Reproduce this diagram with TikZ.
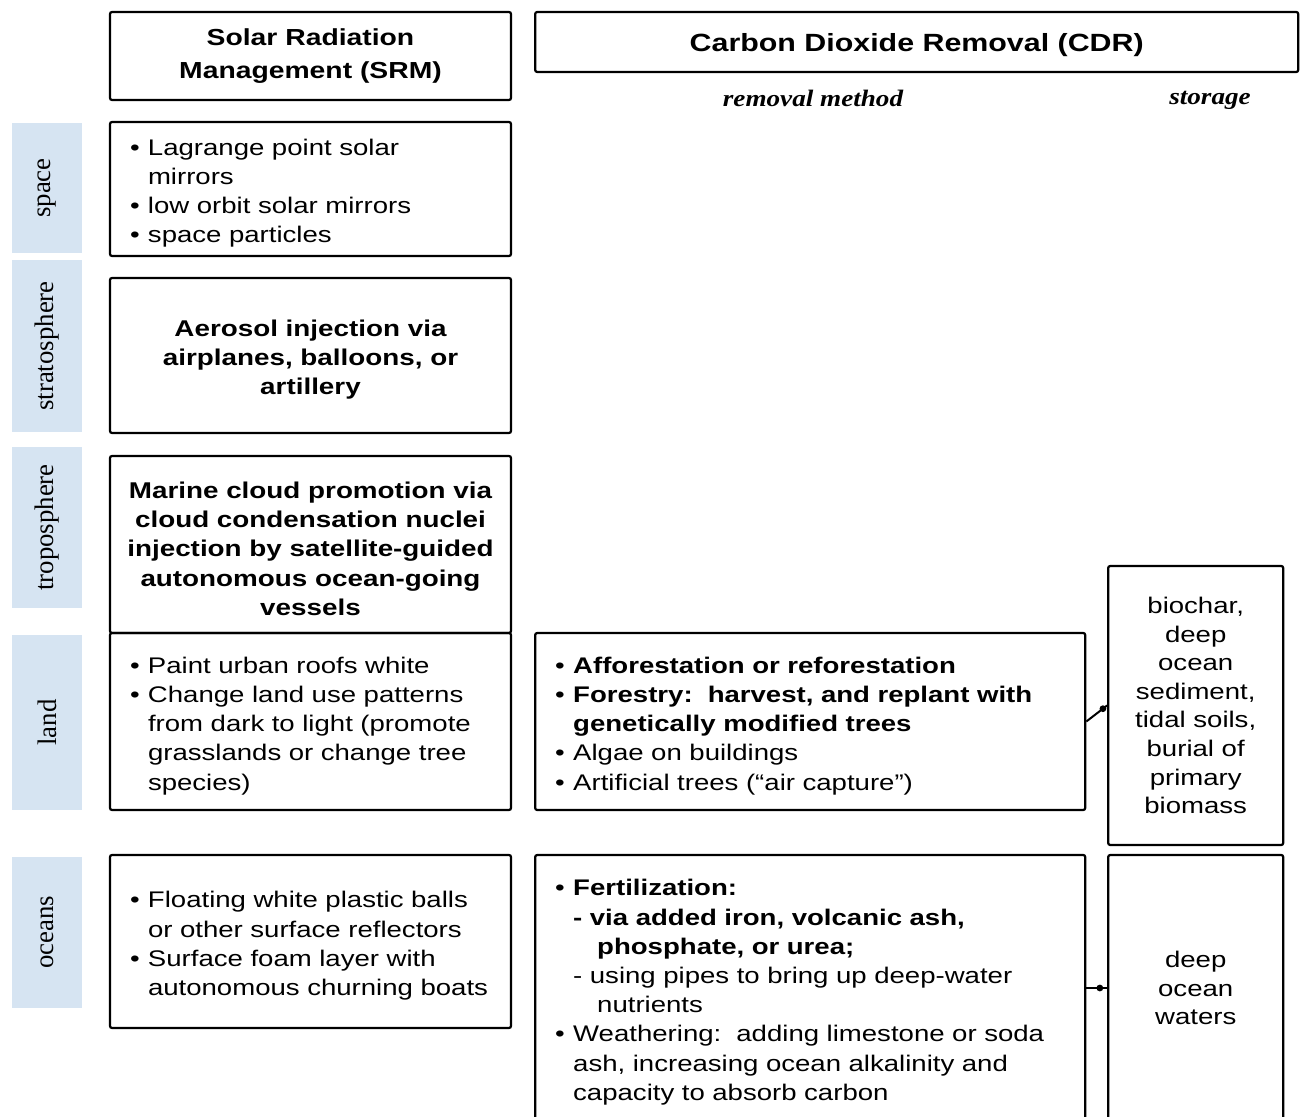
\documentclass[tikz,border=0pt]{standalone}
\usepackage{fontspec}
\setmainfont{Liberation Sans}[FakeStretch=1.22]
\newfontfamily\sidefont{Liberation Serif}
\newfontfamily\colfont{Liberation Serif}[FakeStretch=1.15]
\usetikzlibrary{positioning}
\definecolor{sideblue}{RGB}{214,228,242}
\newcommand{\bul}{\makebox[9pt][l]{\textbullet}}
\newcommand{\ind}{\hspace*{9pt}}
\newcommand{\subind}{\hspace*{21pt}}
\newcommand{\topstrut}{\rule{0pt}{12.5pt}}

\begin{document}
\begin{tikzpicture}
[x=0.5pt, y=-0.5pt, node distance=9.9pt,
box/.style = {draw, line width=1.1pt, rounded corners=1pt, align=center,
  inner sep=0pt, font=\fontsize{11.3}{14.6}\selectfont},
hdr/.style = {box, font=\bfseries\fontsize{11.6}{16.5}\selectfont},
boldbox/.style = {box, minimum width=200.5pt, font=\bfseries\fontsize{11.4}{14.6}\selectfont},
srmlist/.style = {box, align=left, inner xsep=10pt, text width=180.5pt},
cdrlist/.style = {box, align=left, inner xsep=10pt, text width=255pt},
store/.style = {box, minimum width=87.5pt, font=\fontsize{11.3}{14.3}\selectfont},
side/.style = {fill=sideblue, rotate=90, inner sep=0pt, minimum height=35pt,
  font=\sidefont\fontsize{13.4}{15}\selectfont},
collab/.style = {font=\colfont\bfseries\itshape\fontsize{11.8}{13}\selectfont},
dot/.style = {circle, fill, inner sep=1.2pt}]
\useasboundingbox (0,0) rectangle (1301,1117);

% SRM column
\node [hdr, minimum width=200.5pt, minimum height=44pt] (srm) at (310.5,56)
  {Solar Radiation\\Management (SRM)};
\node [srmlist, minimum height=67pt, below=of srm] (spc)
  {\topstrut\bul Lagrange point solar\\\ind mirrors\\\bul low orbit solar mirrors\\\bul space particles};
\node [boldbox, minimum height=77.5pt, below=of spc] (strat)
  {\topstrut Aerosol injection via\\airplanes, balloons, or\\artillery};
\node [boldbox, minimum height=88.5pt, below=10.4pt of strat] (tropo)
  {\topstrut Marine cloud promotion via\\cloud condensation nuclei\\injection by satellite-guided\\autonomous ocean-going\\vessels};
\node [srmlist, minimum height=88.5pt, below=-1.1pt of tropo] (land)
  {\topstrut\bul Paint urban roofs white\\\bul Change land use patterns\\\ind from dark to light (promote\\\ind grasslands or change tree\\\ind species)};
\node [srmlist, minimum height=86.5pt, below=21.4pt of land] (ocn)
  {\topstrut\bul Floating white plastic balls\\\ind or other surface reflectors\\\bul Surface foam layer with\\\ind autonomous churning boats};

% layer labels
\node [side, minimum width=65pt] (lspc) at (47,188) {space};
\node [side, minimum width=86pt] (lstrat) at (47,346) {stratosphere};
\node [side, minimum width=80.5pt] (ltropo) at (47,527.5) {troposphere};
\node [side, minimum width=87.5pt] (lland) at (47,722.5) {land};
\node [side, minimum width=75.5pt] (locn) at (47,932.5) {oceans};

% CDR column
\node [hdr, minimum width=381.5pt, minimum height=30pt, anchor=north west,
  font=\bfseries\fontsize{12.45}{15}\selectfont] (cdr) at ([xshift=11pt]srm.north east)
  {\topstrut Carbon Dioxide Removal (CDR)};
\node [collab] (rmeth) at (813,98) {removal method};
\node [collab] (stor) at (1210,100) {storage};

\node [cdrlist, minimum height=88.5pt, right=11pt of land] (cland)
  {\topstrut\bul\textbf{Afforestation or reforestation}\\
   \bul\textbf{Forestry:\ \ harvest, and replant with}\\
   \ind\textbf{genetically modified trees}\\
   \bul Algae on buildings\\
   \bul Artificial trees (``air capture'')};
\node [store, minimum height=139.5pt, right=10.4pt of cland, yshift=8pt] (sland)
  {biochar,\\deep\\ocean\\sediment,\\tidal soils,\\burial of\\primary\\biomass};

\node [cdrlist, minimum height=133pt, anchor=north west] (cocn) at ([xshift=11pt]ocn.north east)
  {\topstrut\bul\textbf{Fertilization:}\\
   \ind\textbf{- via added iron, volcanic ash,}\\
   \subind\textbf{phosphate, or urea;}\\
   \ind - using pipes to bring up deep-water\\
   \subind nutrients\\
   \bul Weathering:\ \ adding limestone or soda\\
   \ind ash, increasing ocean alkalinity and\\
   \ind capacity to absorb carbon};
\node [store, minimum height=133pt, anchor=north west] (socn) at ([xshift=10.4pt]cocn.north east)
  {deep\\ocean\\waters};

\draw [line width=1pt] (cland.east) -- (sland.west) node [dot, pos=0.8] (dland) {};
\draw [line width=1pt] (cocn.east) -- (socn.west) node [dot, pos=0.65] (docn) {};

\end{tikzpicture}
\end{document}
